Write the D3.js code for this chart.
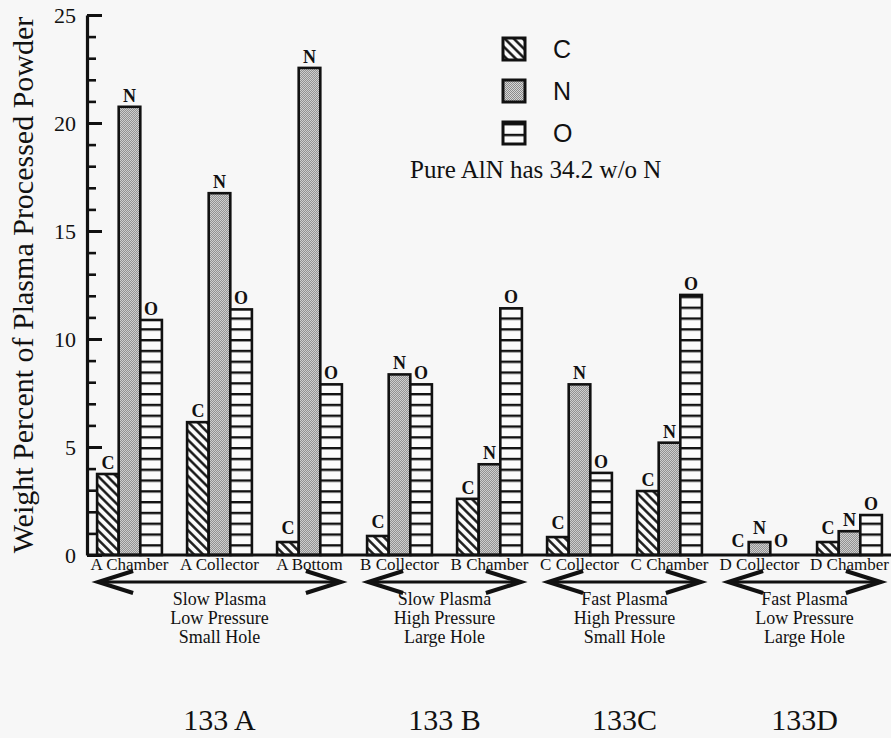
<!DOCTYPE html>
<html>
<head>
<meta charset="utf-8">
<script src="https://cdn.jsdelivr.net/npm/d3@7"></script>
<style>
  html, body { margin: 0; padding: 0; background: #f7f7f7; }
  svg { display: block; font-family: 'Liberation Serif', 'DejaVu Serif', Tinos, 'Times New Roman', Times, serif; }
  svg text { fill: #111; }
</style>
</head>
<body>
<div id="chart"></div>
<script>
// Elemental analysis of plasma processed powder (C, N, O in weight percent)
const categories = ["A Chamber", "A Collector", "A Bottom", "B Collector", "B Chamber",
                    "C Collector", "C Chamber", "D Collector", "D Chamber"];
const elements = ["C", "N", "O"];
const carbon   = [3.75, 6.15, 0.6, 0.88, 2.6, 0.83, 2.96, 0, 0.6];
const nitrogen = [20.75, 16.75, 22.55, 8.36, 4.2, 7.9, 5.2, 0.6, 1.1];
const oxygen   = [10.88, 11.37, 7.9, 7.9, 11.42, 3.8, 12.04, 0, 1.85];
const yMajorTicks = [0, 5, 10, 15, 20, 25];
const yMinorTicks = d3.range(0, 26, 1);
const runNames = ["133 A", "133 B", "133C", "133D"];
const runCategories = [
  ["A Chamber", "A Collector", "A Bottom"],
  ["B Collector", "B Chamber"],
  ["C Collector", "C Chamber"],
  ["D Collector", "D Chamber"]
];
const runConditions = [
  ["Slow Plasma", "Low Pressure", "Small Hole"],
  ["Slow Plasma", "High Pressure", "Large Hole"],
  ["Fast Plasma", "High Pressure", "Small Hole"],
  ["Fast Plasma", "Low Pressure", "Large Hole"]
];
const yTitle = "Weight Percent of Plasma Processed Powder";
const note = "Pure AlN has 34.2 w/o N";

const seriesValues = { C: carbon, N: nitrogen, O: oxygen };
const SERIF = "'Liberation Serif', 'DejaVu Serif', Tinos, 'Times New Roman', serif";
const SANS = "'Liberation Sans', Arimo, Arial, sans-serif";

const W = 891, H = 738;
const svg = d3.select("#chart").append("svg").attr("width", W).attr("height", H)
  .attr("font-family", SERIF);

// ---- fill patterns ----
const defs = svg.append("defs");
const y = d3.scaleLinear().domain([0, 25]).range([555, 15]);

const hatch = defs.append("pattern").attr("id", "pat-C")
  .attr("patternUnits", "userSpaceOnUse").attr("width", 6.4).attr("height", 6.4)
  .attr("patternTransform", "rotate(-45)");
hatch.append("rect").attr("width", 6.4).attr("height", 6.4).attr("fill", "#fbfbfb");
hatch.append("line").attr("x1", 3.2).attr("x2", 3.2).attr("y1", 0).attr("y2", 6.4)
  .attr("stroke", "#111").attr("stroke-width", 2.4);

const stip = defs.append("pattern").attr("id", "pat-N")
  .attr("patternUnits", "userSpaceOnUse").attr("width", 2).attr("height", 2);
stip.append("rect").attr("width", 2).attr("height", 2).attr("fill", "#d6d6d6");
stip.append("rect").attr("width", 1).attr("height", 1).attr("fill", "#8a8a8a");
stip.append("rect").attr("x", 1).attr("y", 1).attr("width", 1).attr("height", 1).attr("fill", "#8a8a8a");

const stripeH = y(0) - y(0.5);
const stripes = defs.append("pattern").attr("id", "pat-O")
  .attr("patternUnits", "userSpaceOnUse").attr("width", 10).attr("height", stripeH)
  .attr("y", y(0));
stripes.append("rect").attr("width", 10).attr("height", stripeH).attr("fill", "#fbfbfb");
stripes.append("rect").attr("y", 0).attr("width", 10).attr("height", 2.4).attr("fill", "#111");

// ---- scales ----
const x = d3.scaleBand().domain(categories).range([84.5, 894.5])
  .paddingInner(0.28).paddingOuter(0.14);
const xs = d3.scaleBand().domain(elements).range([0, x.bandwidth()]).padding(0);

// ---- bars ----
const groups = svg.append("g").selectAll("g").data(categories).join("g")
  .attr("transform", d => `translate(${x(d)},0)`);

groups.each(function (cat, i) {
  const g = d3.select(this);
  elements.forEach(el => {
    const v = seriesValues[el][i];
    g.append("rect")
      .attr("x", xs(el)).attr("width", xs.bandwidth())
      .attr("y", y(v)).attr("height", y(0) - y(v))
      .attr("fill", `url(#pat-${el})`)
      .attr("stroke", "#111").attr("stroke-width", 2.6);
    g.append("text")
      .attr("x", xs(el) + xs.bandwidth() / 2)
      .attr("y", y(v) - (v < 1 ? 8 : 5))
      .attr("text-anchor", "middle")
      .attr("font-family", SERIF)
      .attr("font-size", 18).attr("font-weight", "bold")
      .text(el);
  });
});

// ---- axes ----
const axisX = 87;
const minorAxis = svg.append("g").attr("transform", `translate(${axisX},0)`)
  .call(d3.axisLeft(y).tickValues(yMinorTicks).tickSize(-9).tickFormat(""));
minorAxis.select(".domain").remove();
minorAxis.selectAll("line").attr("stroke", "#111").attr("stroke-width", 2.6);

const majorAxis = svg.append("g").attr("transform", `translate(${axisX},0)`)
  .call(d3.axisLeft(y).tickValues(yMajorTicks).tickSize(-15).tickSizeOuter(0).tickPadding(11));
majorAxis.attr("font-family", SERIF).attr("font-size", 22);
majorAxis.select(".domain").attr("stroke", "#111").attr("stroke-width", 3.2);
majorAxis.selectAll("line").attr("stroke", "#111").attr("stroke-width", 3);
majorAxis.selectAll("text").attr("fill", "#111");

// baseline
svg.append("line").attr("x1", axisX).attr("x2", W).attr("y1", y(0)).attr("y2", y(0))
  .attr("stroke", "#111").attr("stroke-width", 3.2);

// y title
svg.append("text")
  .attr("transform", `translate(33,${(y(0) + y(25)) / 2}) rotate(-90)`)
  .attr("text-anchor", "middle").attr("font-size", 30)
  .text(yTitle);

// category labels
svg.append("g").selectAll("text").data(categories).join("text")
  .attr("x", d => x(d) + x.bandwidth() / 2).attr("y", 570)
  .attr("text-anchor", "middle").attr("font-size", 17)
  .text(d => d);

// ---- run groups: double arrows, conditions, run names ----
const runs = svg.append("g");
runCategories.forEach((cats, k) => {
  const x0 = x(cats[0]) + 1;
  const x1 = x(cats[cats.length - 1]) + x.bandwidth() - 1;
  const ay = 582, head = 35, spread = 11;
  runs.append("line").attr("x1", x0 + 3).attr("x2", x1 - 3).attr("y1", ay).attr("y2", ay)
    .attr("stroke", "#111").attr("stroke-width", 3);
  runs.append("path")
    .attr("d", `M${x0 + head},${ay - spread} L${x0},${ay} L${x0 + head},${ay + spread}`
             + ` M${x1 - head},${ay - spread} L${x1},${ay} L${x1 - head},${ay + spread}`)
    .attr("fill", "none").attr("stroke", "#111").attr("stroke-width", 4)
    .attr("stroke-linejoin", "miter");
  const cx = (x0 + x1) / 2;
  runConditions[k].forEach((line, j) => {
    runs.append("text").attr("x", cx).attr("y", 605 + j * 19)
      .attr("text-anchor", "middle").attr("font-size", 18).text(line);
  });
  runs.append("text").attr("x", cx).attr("y", 730)
    .attr("text-anchor", "middle").attr("font-size", 30).text(runNames[k]);
});

// ---- legend ----
const legend = svg.append("g");
elements.forEach((el, i) => {
  const ly = 38 + i * 42;
  legend.append("rect").attr("x", 503).attr("y", ly).attr("width", 22).attr("height", 22)
    .attr("fill", `url(#pat-${el})`).attr("stroke", "#111").attr("stroke-width", 3);
  legend.append("text").attr("x", 553).attr("y", ly + 11).attr("dy", "0.36em")
    .attr("font-family", SANS).attr("font-size", 25)
    .text(el);
});
svg.append("text").attr("x", 410).attr("y", 178).attr("font-size", 25).text(note);
</script>
</body>
</html>
